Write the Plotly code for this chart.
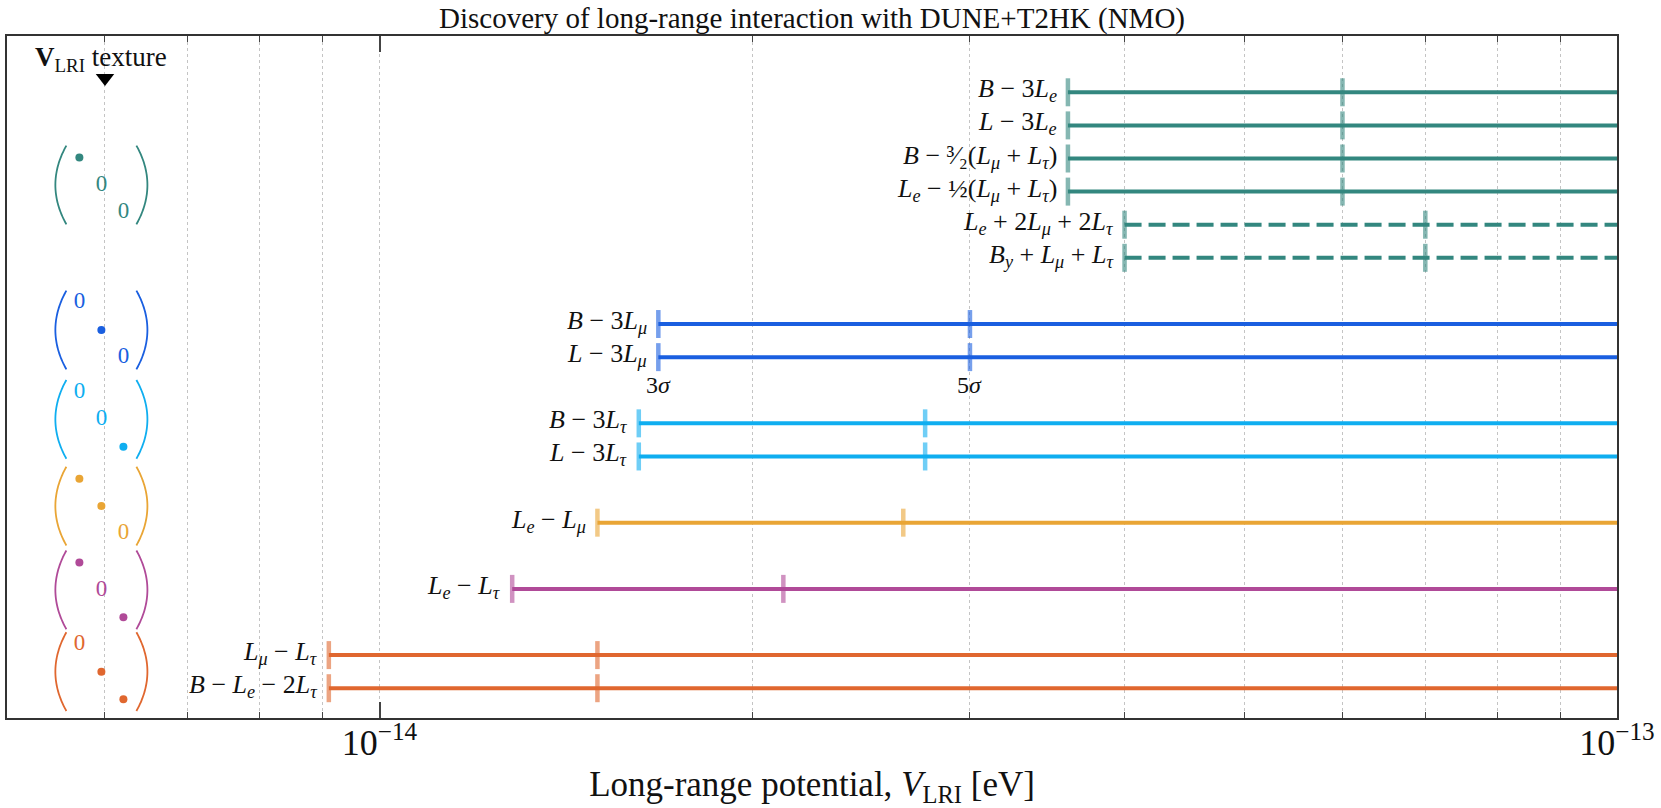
import numpy as np
import plotly.graph_objects as go

# ---------------- data ----------------
labels = [
    "<i>B</i> − 3<i>L<sub>e</sub></i>",
    "<i>L</i> − 3<i>L<sub>e</sub></i>",
    "<i>B</i> − ³⁄₂(<i>L<sub>μ</sub></i> + <i>L<sub>τ</sub></i>)",
    "<i>L<sub>e</sub></i> − ½(<i>L<sub>μ</sub></i> + <i>L<sub>τ</sub></i>)",
    "<i>L<sub>e</sub></i> + 2<i>L<sub>μ</sub></i> + 2<i>L<sub>τ</sub></i>",
    "<i>B<sub>y</sub></i> + <i>L<sub>μ</sub></i> + <i>L<sub>τ</sub></i>",
    "<i>B</i> − 3<i>L<sub>μ</sub></i>",
    "<i>L</i> − 3<i>L<sub>μ</sub></i>",
    "<i>B</i> − 3<i>L<sub>τ</sub></i>",
    "<i>L</i> − 3<i>L<sub>τ</sub></i>",
    "<i>L<sub>e</sub></i> − <i>L<sub>μ</sub></i>",
    "<i>L<sub>e</sub></i> − <i>L<sub>τ</sub></i>",
    "<i>L<sub>μ</sub></i> − <i>L<sub>τ</sub></i>",
    "<i>B</i> − <i>L<sub>e</sub></i> − 2<i>L<sub>τ</sub></i>",
]
rows = [19, 18, 17, 16, 15, 14, 12, 11, 9, 8, 6, 4, 2, 1]
sigma3 = [3.6e-14, 3.6e-14, 3.6e-14, 3.6e-14, 4.0e-14, 4.0e-14,
          1.68e-14, 1.68e-14, 1.62e-14, 1.62e-14, 1.50e-14, 1.28e-14, 0.91e-14, 0.91e-14]
sigma5 = [6.0e-14, 6.0e-14, 6.0e-14, 6.0e-14, 7.0e-14, 7.0e-14,
          3.0e-14, 3.0e-14, 2.76e-14, 2.76e-14, 2.65e-14, 2.12e-14, 1.50e-14, 1.50e-14]
groups = ["ee", "ee", "ee", "ee", "ee", "ee", "mm", "mm", "tt", "tt", "em", "et", "mt", "mt"]
dashed = [False, False, False, False, True, True, False, False, False, False, False, False, False, False]

group_colors = {
    "ee": (51, 135, 127),
    "mm": (26, 95, 224),
    "tt": (15, 174, 240),
    "em": (233, 165, 53),
    "et": (176, 74, 152),
    "mt": (224, 103, 47),
}

# texture matrices (diagonal entries, top-left to bottom-right)
matrix_groups = ["ee", "mm", "tt", "em", "et", "mt"]
matrix_centers = [16.2, 11.82, 9.12, 6.5, 3.97, 1.5]
matrix_entries = [
    ["•", "0", "0"],
    ["0", "•", "0"],
    ["0", "0", "•"],
    ["•", "•", "0"],
    ["•", "0", "•"],
    ["0", "•", "•"],
]

x_min, x_max = 5.0e-15, 1.0e-13
y_min, y_max = 0.1, 20.7
major_ticks = [1e-14, 1e-13]
major_text = ["10<sup>−14</sup>", "10<sup>−13</sup>"]
minor_ticks = [6e-15, 7e-15, 8e-15, 9e-15, 2e-14, 3e-14, 4e-14, 5e-14,
               6e-14, 7e-14, 8e-14, 9e-14]

FONT = "Liberation Serif"


def rgb(c, a=1.0):
    return f"rgba({c[0]},{c[1]},{c[2]},{a})"


fig = go.Figure()

# ---------------- horizontal discovery bars ----------------
for lab, r, s3, s5, g, d in zip(labels, rows, sigma3, sigma5, groups, dashed):
    col = group_colors[g]
    fig.add_trace(go.Scatter(
        x=[s3, x_max], y=[r, r], mode="lines",
        line=dict(color=rgb(col), width=4, dash="17px,7px" if d else "solid"),
        hoverinfo="skip", showlegend=False))
    fig.add_trace(go.Scatter(
        x=[s3, s5], y=[r, r], mode="markers",
        marker=dict(symbol="line-ns", size=20,
                    line=dict(color=rgb(col, 0.6), width=4.5)),
        hoverinfo="skip", showlegend=False))
    fig.add_annotation(
        x=np.log10(s3), y=r, xref="x", yref="y", text=lab, showarrow=False,
        xanchor="right", yanchor="middle", xshift=-9, yshift=2,
        font=dict(family=FONT, size=26, color="#111"))

# 3σ / 5σ markers below L-3Lμ row
ref_idx = labels.index("<i>L</i> − 3<i>L<sub>μ</sub></i>")
for val, txt in [(sigma3[ref_idx], "3<i>σ</i>"), (sigma5[ref_idx], "5<i>σ</i>")]:
    fig.add_annotation(
        x=np.log10(val), y=rows[ref_idx] - 0.85, xref="x", yref="y",
        text=txt, showarrow=False, xanchor="center", yanchor="middle",
        font=dict(family=FONT, size=24, color="#111"))

# ---------------- texture matrices ----------------
px_per_decade = 1237.0
col_center_log = np.log10(5.96e-15)
col_step = 22.0 / px_per_decade
row_step = 0.83
paren_half_h = 1.19
paren_end = 35.0 / px_per_decade
paren_mid = 46.0 / px_per_decade

t = np.linspace(-1, 1, 31)
for g, yc, entries in zip(matrix_groups, matrix_centers, matrix_entries):
    col = group_colors[g]
    for side in (-1, 1):
        xo = side * (paren_end + (paren_mid - paren_end) * (1 - t ** 2))
        fig.add_trace(go.Scatter(
            x=10 ** (col_center_log + xo), y=yc + paren_half_h * t,
            mode="lines", line=dict(color=rgb(col), width=1.8, shape="spline"),
            hoverinfo="skip", showlegend=False))
    dots_x, dots_y, zero_x, zero_y = [], [], [], []
    for i, e in enumerate(entries):
        xx = 10 ** (col_center_log + (i - 1) * col_step)
        yy = yc + (1 - i) * row_step
        if e == "•":
            dots_x.append(xx); dots_y.append(yy)
        else:
            zero_x.append(xx); zero_y.append(yy)
    fig.add_trace(go.Scatter(
        x=dots_x, y=dots_y, mode="markers",
        marker=dict(size=8, color=rgb(col)), hoverinfo="skip", showlegend=False))
    fig.add_trace(go.Scatter(
        x=zero_x, y=zero_y, mode="text", text=["0"] * len(zero_x),
        textfont=dict(family=FONT, size=23, color=rgb(col)),
        hoverinfo="skip", showlegend=False))

# header with arrow
fig.add_trace(go.Scatter(
    x=[6.0e-15], y=[19.43], mode="markers",
    marker=dict(symbol="triangle-down", size=16, color="black"),
    hoverinfo="skip", showlegend=False))
fig.add_annotation(
    x=np.log10(5.96e-15), y=20.0, xref="x", yref="y",
    text="<b>V</b><sub>LRI</sub> texture", showarrow=False,
    xanchor="center", yanchor="middle",
    font=dict(family=FONT, size=27, color="#111"))

# ---------------- layout ----------------
fig.update_layout(
    width=1661, height=808,
    margin=dict(l=7, r=44, t=36, b=90),
    paper_bgcolor="white", plot_bgcolor="white",
    font=dict(family=FONT, color="#111"),
    title=dict(text="Discovery of long-range interaction with DUNE+T2HK (NMO)",
               x=0.5, xref="paper", xanchor="center",
               y=1 - 18 / 808, yref="container", yanchor="middle",
               font=dict(family=FONT, size=29, color="#111")),
    xaxis=dict(
        type="log", range=[np.log10(x_min), np.log10(x_max)],
        tickvals=major_ticks, ticktext=major_text,
        ticks="inside", ticklen=16, tickwidth=1.5, tickcolor="#444",
        ticklabelstandoff=-8,
        showgrid=True, gridcolor="#c4c4c4", griddash="dot", gridwidth=1,
        showline=True, linecolor="#333", linewidth=1.5, mirror="ticks",
        zeroline=False,
        tickfont=dict(family=FONT, size=36, color="#111"),
        minor=dict(tickvals=minor_ticks, ticks="inside", ticklen=6,
                   tickwidth=1.3, tickcolor="#444", showgrid=True,
                   gridcolor="#c4c4c4", griddash="dot", gridwidth=1),
        title=dict(text="Long-range potential, <i>V</i><sub>LRI</sub> [eV]",
                   font=dict(family=FONT, size=35, color="#111"), standoff=10),
    ),
    yaxis=dict(
        range=[y_min, y_max], showticklabels=False, ticks="",
        showgrid=False, zeroline=False, showline=True, linecolor="#333",
        linewidth=1.5, mirror=True,
    ),
)

fig.write_html("out.html", config={"displayModeBar": False},
               post_script="document.body.style.margin='0';")
